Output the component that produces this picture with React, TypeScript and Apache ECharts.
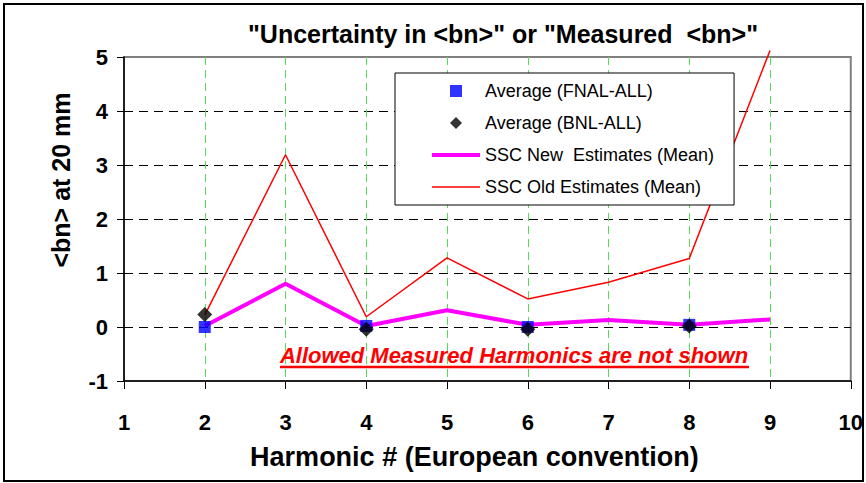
import React, { useEffect, useRef } from "react";
import * as echarts from "echarts";

const harmonics = [2, 3, 4, 5, 6, 7, 8, 9];
const sscNewMean = [0.02, 0.8, 0.02, 0.31, 0.04, 0.13, 0.04, 0.14];
const sscOldMean = [0.22, 3.19, 0.19, 1.28, 0.52, 0.83, 1.27, 5.12];
const measuredHarmonics = [2, 4, 6, 8];
const fnalAll = [0.0, 0.02, 0.0, 0.04];
const bnlAll = [0.23, -0.04, -0.04, 0.02];

const FONT = "'Liberation Sans', Arial, Helvetica, sans-serif";

export default function App() {
  const ref = useRef<HTMLDivElement>(null);
  useEffect(() => {
    if (!ref.current) return;
    const chart = echarts.init(ref.current, null, { renderer: "svg" });
    const pairs = (xs: number[], ys: number[]) => xs.map((x, i) => [x, ys[i]]);
    chart.setOption({
      animation: false,
      backgroundColor: "#fff",
      textStyle: { fontFamily: FONT },
      title: {
        text: '"Uncertainty in <bn>" or "Measured  <bn>"',
        left: 498,
        top: 16,
        textAlign: "center",
        textStyle: { fontFamily: FONT, fontSize: 25, fontWeight: "bold", color: "#000" },
      },
      legend: {
        orient: "vertical",
        left: 395,
        top: 73,
        padding: [8, 20, 8, 37],
        itemGap: 12,
        itemWidth: 48,
        itemHeight: 12,
        symbolKeepAspect: true,
        backgroundColor: "#fff",
        borderColor: "#000",
        borderWidth: 1,
        textStyle: { fontFamily: FONT, fontSize: 18, color: "#000", lineHeight: 20 },
        data: [
          { name: "Average (FNAL-ALL)", icon: "path://M0,0L10,0L10,10L0,10Z" },
          { name: "Average (BNL-ALL)", icon: "path://M5,0L10,5L5,10L0,5Z" },
          { name: "SSC New  Estimates (Mean)", icon: "path://M0,0L48,0L48,4L0,4Z" },
          { name: "SSC Old Estimates (Mean)", icon: "path://M0,0L48,0L48,1.6L0,1.6Z" },
        ],
      },
      grid: {
        left: 124,
        right: 15,
        top: 57,
        bottom: 102,
        show: true,
        borderColor: "#808080",
        borderWidth: 2,
        backgroundColor: "transparent",
      },
      xAxis: {
        type: "value",
        min: 1,
        max: 10,
        interval: 1,
        name: "Harmonic # (European convention)",
        nameLocation: "middle",
        nameGap: 62,
        nameTextStyle: { fontFamily: FONT, fontSize: 27, fontWeight: "bold", color: "#000", padding: [0, 26, 0, 0] },
        axisLine: { show: true, onZero: false, lineStyle: { color: "#000", width: 1.5 } },
        axisTick: { show: true, length: 8, lineStyle: { color: "#000", width: 1 } },
        axisLabel: { fontFamily: FONT, fontSize: 22, fontWeight: "bold", color: "#000", margin: 30 },
        splitLine: {
          show: true,
          showMinLine: false,
          showMaxLine: false,
          lineStyle: { color: "#55dd55", type: [8, 5], width: 1 },
        },
      },
      yAxis: {
        type: "value",
        min: -1,
        max: 5,
        interval: 1,
        name: "<bn> at 20 mm",
        nameLocation: "middle",
        nameRotate: 90,
        nameGap: 51,
        nameTextStyle: { fontFamily: FONT, fontSize: 25, fontWeight: "bold", color: "#000", padding: [0, 0, 0, 78] },
        axisLine: { show: true, onZero: false, lineStyle: { color: "#000", width: 1.5 } },
        axisTick: { show: true, length: 7, lineStyle: { color: "#000", width: 1 } },
        axisLabel: { fontFamily: FONT, fontSize: 22, fontWeight: "bold", color: "#000", margin: 16 },
        splitLine: {
          show: true,
          showMinLine: false,
          showMaxLine: false,
          lineStyle: { color: "#000", type: [9, 6], width: 1 },
        },
      },
      graphic: [
        {
          type: "rect",
          shape: { x: 4, y: 4, width: 859, height: 477 },
          style: { fill: "none", stroke: "#000", lineWidth: 2 },
          silent: true,
        },
        {
          type: "text",
          x: 514,
          y: 355,
          style: {
            text: "Allowed Measured Harmonics are not shown",
            fill: "#ff0000",
            font: `italic bold 22px ${FONT}`,
            align: "center",
            verticalAlign: "middle",
          },
          z: 10,
        },
        {
          type: "line",
          shape: { x1: 280, y1: 367, x2: 749, y2: 367 },
          style: { stroke: "#ff0000", lineWidth: 2.5 },
          z: 10,
        },
      ],
      series: [
        {
          name: "SSC New  Estimates (Mean)",
          type: "line",
          data: pairs(harmonics, sscNewMean),
          symbol: "none",
          lineStyle: { color: "#ff00ff", width: 4 },
          itemStyle: { color: "#ff00ff" },
          z: 2,
        },
        {
          name: "SSC Old Estimates (Mean)",
          type: "line",
          data: pairs(harmonics, sscOldMean),
          symbol: "none",
          clip: false,
          lineStyle: { color: "#ff0000", width: 1.5 },
          itemStyle: { color: "#ff0000" },
          z: 2,
        },
        {
          name: "Average (FNAL-ALL)",
          type: "scatter",
          data: pairs(measuredHarmonics, fnalAll),
          symbol: "rect",
          symbolSize: 12,
          itemStyle: { color: "#0000ff" },
          z: 3,
        },
        {
          name: "Average (BNL-ALL)",
          type: "scatter",
          data: pairs(measuredHarmonics, bnlAll),
          symbol: "diamond",
          symbolSize: 15,
          itemStyle: { color: "#000" },
          z: 4,
        },
      ],
    });
    return () => chart.dispose();
  }, []);
  return (
    <div
      ref={ref}
      style={{ position: "absolute", left: 0, top: 0, width: 866, height: 483 }}
    />
  );
}
